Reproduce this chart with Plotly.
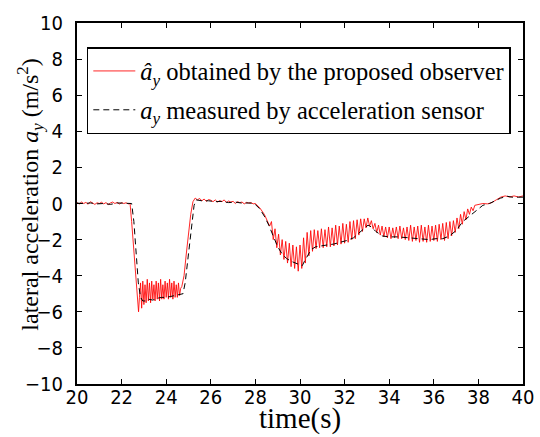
import plotly.graph_objects as go

# ---- measured lateral acceleration (black dashed) ----
meas_t = [20.0, 20.3, 20.6, 20.9, 21.2, 21.5, 21.8, 22.1, 22.45, 22.55, 22.65, 22.75,
          22.85, 22.95, 23.1, 23.2, 23.4, 23.6, 23.8, 24.0, 24.2, 24.4, 24.6, 24.75,
          24.85, 24.95, 25.05, 25.15, 25.25, 25.35, 25.6, 25.9, 26.2, 26.5, 26.8, 27.1,
          27.4, 27.7, 27.95, 28.2, 28.4, 28.6, 28.8, 29.0, 29.2, 29.4, 29.6, 29.8, 30.0,
          30.1, 30.2, 30.35, 30.5, 30.7, 30.9, 31.2, 31.5, 31.8, 32.1, 32.4, 32.7, 32.9,
          33.05, 33.2, 33.4, 33.7, 34.0, 34.4, 34.8, 35.2, 35.5, 35.8, 36.1, 36.4, 36.7,
          37.0, 37.3, 37.6, 37.9, 38.2, 38.5, 38.8, 39.0, 39.3, 39.5, 39.8, 40.0]
meas_y = [0.02, 0.0, 0.03, -0.02, 0.0, -0.05, 0.03, 0.02, 0.0, -1.0, -2.8, -4.4,
          -5.2, -5.4, -5.4, -5.3, -5.35, -5.25, -5.2, -5.2, -5.15, -5.1, -5.05, -5.0,
          -4.4, -3.3, -2.1, -1.0, -0.1, 0.2, 0.15, 0.15, 0.1, 0.12, 0.05, 0.08,
          0.02, 0.03, 0.0, -0.3, -0.7, -1.2, -1.8, -2.4, -2.8, -3.05, -3.2, -3.3, -3.4,
          -3.45, -3.2, -2.85, -2.55, -2.4, -2.35, -2.3, -2.25, -2.15, -2.05, -1.9, -1.6, -1.35,
          -1.2, -1.3, -1.55, -1.8, -1.85, -1.85, -1.9, -1.95, -2.0, -2.0, -1.95, -1.95, -1.8,
          -1.5, -1.0, -0.7, -0.35, -0.1, 0.0, 0.2, 0.3, 0.4, 0.35, 0.35, 0.35]

# ---- observer estimate (red) ----
obs_t = [20.0, 20.1, 20.2, 20.3, 20.4, 20.5, 20.6, 20.7, 20.8, 20.9, 21.0, 21.1, 21.2,
         21.3, 21.4, 21.5, 21.6, 21.7, 21.8, 21.9, 22.0, 22.1, 22.2, 22.3, 22.38,
         22.45, 22.55, 22.65, 22.72, 22.76, 22.8, 22.85, 22.9, 22.95, 23.0, 23.05,
         23.1, 23.15, 23.2, 23.25, 23.3, 23.35, 23.4, 23.45, 23.5, 23.55, 23.6, 23.65,
         23.7, 23.75, 23.8, 23.85, 23.9, 23.95, 24.0, 24.05, 24.1, 24.15, 24.2, 24.25,
         24.3, 24.35, 24.4, 24.45, 24.5, 24.55, 24.6, 24.65, 24.7, 24.8, 24.9, 25.0,
         25.1, 25.2, 25.3, 25.4, 25.5, 25.6, 25.7, 25.8, 25.9, 26.0, 26.1, 26.2, 26.3,
         26.4, 26.5, 26.6, 26.7, 26.8, 26.9, 27.0, 27.1, 27.2, 27.3, 27.4, 27.5, 27.6,
         27.7, 27.8, 27.9, 28.0, 28.2, 28.4, 28.56,
         28.64, 28.72, 28.80, 28.88, 28.96, 29.04, 29.12, 29.20, 29.28, 29.36, 29.44,
         29.52, 29.60, 29.68, 29.76, 29.84, 29.92, 30.00, 30.08, 30.16, 30.24, 30.32,
         30.40, 30.48, 30.56, 30.64, 30.72, 30.80, 30.88, 30.96, 31.04, 31.12, 31.20,
         31.28, 31.36, 31.44, 31.52, 31.60, 31.68, 31.76, 31.84, 31.92, 32.00, 32.08,
         32.16, 32.24, 32.32, 32.40, 32.48, 32.56, 32.64, 32.72, 32.80, 32.88, 32.96,
         33.04, 33.12, 33.20, 33.28, 33.36, 33.44, 33.52, 33.60, 33.68, 33.76, 33.84,
         33.92, 34.00, 34.08, 34.16, 34.24, 34.32, 34.40, 34.48, 34.56, 34.64, 34.72,
         34.80, 34.88, 34.96, 35.04, 35.12, 35.20, 35.28, 35.36, 35.44, 35.52, 35.60,
         35.68, 35.76, 35.84, 35.92, 36.00, 36.08, 36.16, 36.24, 36.32, 36.40, 36.48,
         36.56, 36.64, 36.72, 36.80, 36.88, 36.96, 37.04, 37.12, 37.20, 37.28, 37.36,
         37.44, 37.52, 37.60, 37.68, 37.76, 37.84,
         38.0, 38.2, 38.4, 38.6, 38.8, 39.0, 39.2, 39.4, 39.6, 39.8, 40.0]
obs_y = [0.05, -0.03, 0.08, 0.0, 0.06, -0.04, 0.1, 0.02, -0.05, 0.04, 0.0, 0.07, -0.02,
         0.05, -0.06, 0.03, 0.08, 0.0, 0.06, -0.03, 0.05, 0.0, 0.04, -0.02, 0.0,
         -1.0, -2.8, -4.5, -5.5, -6.0, -5.2, -4.4, -5.8, -4.3, -5.6, -4.5,
         -5.5, -4.2, -5.4, -4.4, -5.5, -4.3, -5.3, -4.5, -5.4, -4.3, -5.3, -4.4,
         -5.4, -4.2, -5.3, -4.5, -5.3, -4.3, -5.2, -4.4, -5.3, -4.2, -5.2, -4.4,
         -5.3, -4.3, -5.2, -4.5, -5.2, -4.4, -5.1, -4.7, -4.6, -4.0, -2.8, -1.6,
         -0.6, 0.1, 0.3, 0.2, 0.28, 0.15, 0.25, 0.12, 0.22, 0.18, 0.1, 0.2, 0.08,
         0.16, 0.1, 0.2, 0.05, 0.14, 0.08, 0.12, 0.0, 0.1, 0.05, 0.08, -0.02, 0.06,
         0.02, 0.05, -0.02, 0.0, -0.25, -0.6, -1.0,
         -1.25, -1.0, -2.0, -1.4, -2.45, -1.7, -2.85, -2.0, -3.1, -2.1, -3.3,
         -2.2, -3.5, -2.3, -3.6, -2.4, -3.75, -2.3, -3.6, -1.9, -3.3, -1.6,
         -2.9, -1.5, -2.65, -1.45, -2.5, -1.5, -2.45, -1.4, -2.45, -1.45, -2.4,
         -1.3, -2.4, -1.35, -2.35, -1.2, -2.3, -1.25, -2.25, -1.1, -2.2, -1.15,
         -2.15, -1.0, -2.0, -0.95, -1.95, -0.9, -1.75, -0.85, -1.55, -0.85, -1.35,
         -0.8, -1.25, -0.95, -1.4, -1.1, -1.6, -1.2, -1.75, -1.25, -1.85, -1.3,
         -1.9, -1.3, -1.95, -1.35, -1.9, -1.3, -1.95, -1.25, -1.95, -1.35, -2.0,
         -1.3, -2.05, -1.2, -2.1, -1.3, -2.05, -1.25, -2.15, -1.2, -2.1, -1.3,
         -2.15, -1.2, -2.1, -1.25, -2.05, -1.2, -2.1, -1.15, -2.0, -1.1, -2.05,
         -1.05, -1.95, -1.0, -1.8, -0.95, -1.6, -0.8, -1.4, -0.6, -1.15, -0.45,
         -0.9, -0.3, -0.6, -0.2, -0.4, -0.1,
         -0.05, 0.0, -0.02, 0.05, 0.2, 0.35, 0.42, 0.36, 0.42, 0.36, 0.42]

x_ticks = [20, 22, 24, 26, 28, 30, 32, 34, 36, 38, 40]
y_ticks = [-10, -8, -6, -4, -2, 0, 2, 4, 6, 8, 10]

serif = "Liberation Serif, Times New Roman, serif"
sans = "Liberation Sans Narrow, DejaVu Sans Condensed, sans-serif"

fig = go.Figure()
fig.add_trace(go.Scatter(
    x=obs_t, y=obs_y, mode="lines", legendgroup="a",
    name="<i>â<sub>y</sub></i> obtained by the proposed observer",
    line=dict(color="rgba(255,0,0,0.85)", width=1)))
fig.add_trace(go.Scatter(
    x=meas_t, y=meas_y, mode="lines", legendgroup="b",
    name="<i>a<sub>y</sub></i> measured by acceleration sensor",
    line=dict(color="black", width=1, dash="6px,4px")))

axis_common = dict(showline=True, linecolor="black", linewidth=2, mirror="ticks",
                   ticks="inside", ticklen=5, tickcolor="black", tickwidth=1,
                   showgrid=False, zeroline=False, automargin=False,
                   tickfont=dict(family=sans, size=20, color="black"))

fig.update_layout(
    width=540, height=437,
    margin=dict(l=77, r=17, t=23, b=53),
    paper_bgcolor="white", plot_bgcolor="white",
    showlegend=True,
    legend=dict(x=0.022, y=0.9335, xanchor="left", yanchor="top",
                bgcolor="white", bordercolor="black", borderwidth=1.5,
                font=dict(family=serif, size=24.5, color="black"),
                traceorder="grouped", tracegroupgap=4, itemwidth=42),
    xaxis=dict(range=[20, 40], tickvals=x_ticks, ticklabelstandoff=-6, **axis_common),
    yaxis=dict(range=[-10, 10], tickvals=y_ticks, ticklabelstandoff=8, **axis_common),
    annotations=[
        dict(text="time(s)", xref="paper", yref="paper", x=0.5, y=-0.1468,
             xanchor="center", yanchor="bottom", showarrow=False,
             font=dict(family=serif, size=29, color="black")),
        dict(text="lateral acceleration <i>a<sub>y</sub></i> (m/s<sup>2</sup>)",
             xref="paper", yref="paper", x=-0.105, y=0.525, textangle=-90,
             xanchor="center", yanchor="middle", showarrow=False,
             font=dict(family=serif, size=24, color="black")),
    ],
)

fig.write_html("out.html")
